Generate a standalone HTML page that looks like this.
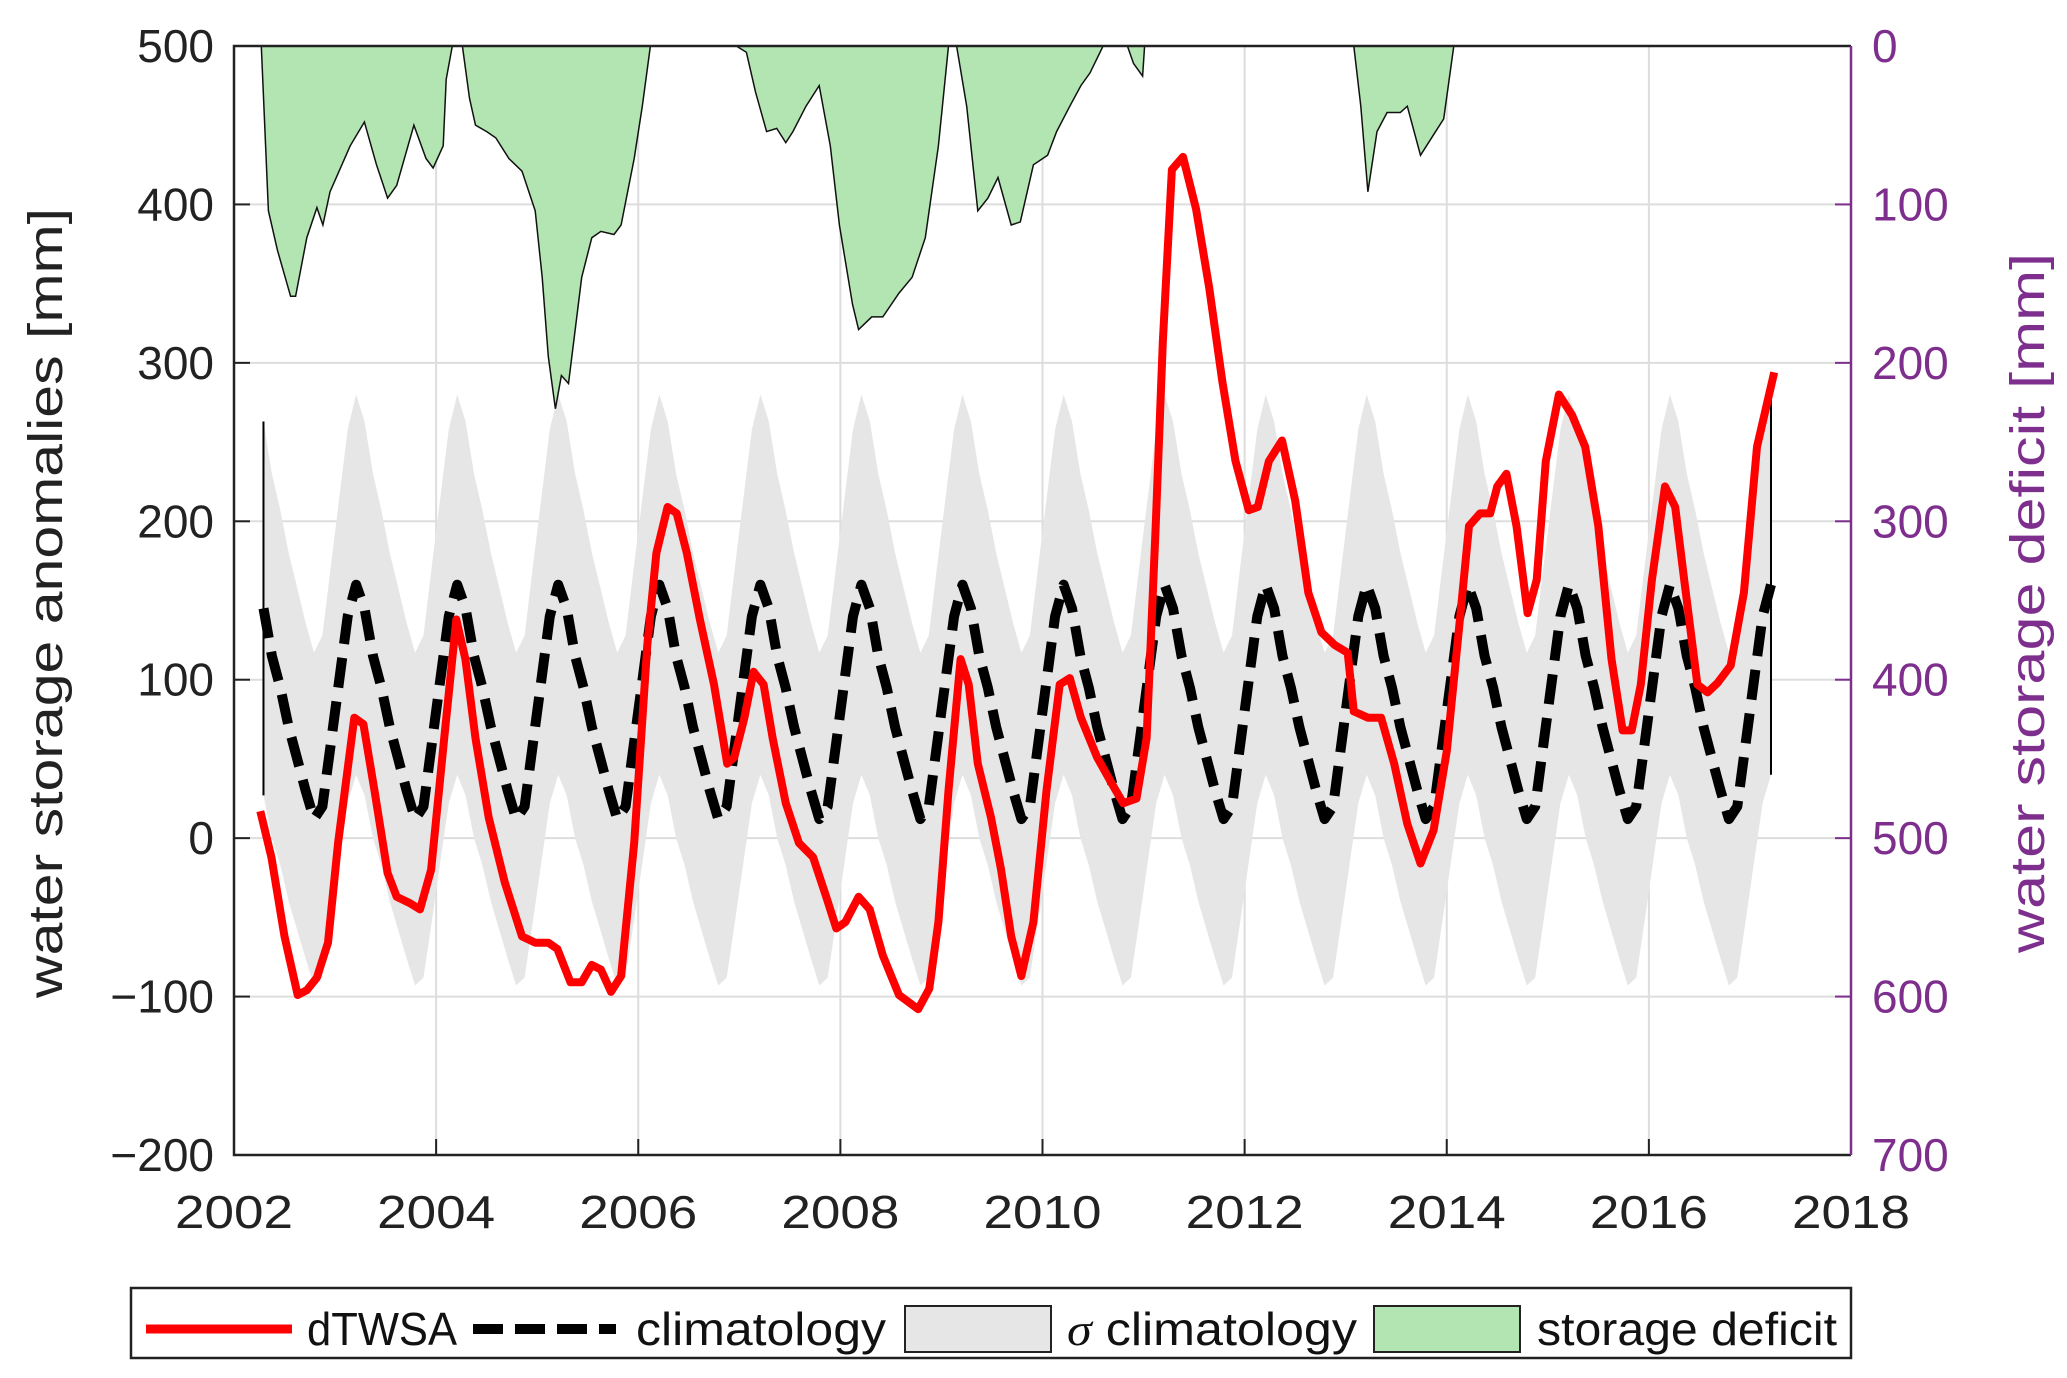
<!DOCTYPE html>
<html><head><meta charset="utf-8"><style>
html,body{margin:0;padding:0;background:#fff;}
svg{display:block;font-family:"Liberation Sans","DejaVu Sans",sans-serif;}
</style></head><body>
<svg id="chart" width="2067" height="1378" viewBox="0 0 2067 1378" xmlns="http://www.w3.org/2000/svg">
<g id="grid"></g>
<g id="band"></g>
<g id="deficit"></g>
<g id="series"></g>
<g id="axes"></g>
<text transform="translate(62,603) rotate(-90)" text-anchor="middle" font-size="48" fill="#222" textLength="790" lengthAdjust="spacingAndGlyphs">water storage anomalies [mm]</text>
<text transform="translate(2044,603) rotate(-90)" text-anchor="middle" font-size="48" fill="#7E2F8E" textLength="700" lengthAdjust="spacingAndGlyphs">water storage deficit [mm]</text>
<g>
<rect x="131" y="1288" width="1720" height="70" fill="#fff" stroke="#222" stroke-width="2.5"/>
<line x1="146" y1="1329" x2="292" y2="1329" stroke="#ff0000" stroke-width="9"/>
<text x="307" y="1345" font-size="46" fill="#111" textLength="150" lengthAdjust="spacingAndGlyphs">dTWSA</text>
<line x1="473" y1="1329" x2="616" y2="1329" stroke="#000" stroke-width="10" stroke-dasharray="30 12"/>
<text x="636" y="1345" font-size="46" fill="#111" textLength="250" lengthAdjust="spacingAndGlyphs">climatology</text>
<rect x="905" y="1306" width="146" height="46" fill="#e6e6e6" stroke="#222" stroke-width="2"/>
<text x="1067" y="1345" font-size="46" fill="#111" textLength="290" lengthAdjust="spacingAndGlyphs"><tspan font-style="italic" font-family="Liberation Serif,serif">σ</tspan> climatology</text>
<rect x="1374" y="1306" width="146" height="46" fill="#b3e5b2" stroke="#222" stroke-width="2"/>
<text x="1537" y="1345" font-size="46" fill="#111" textLength="300" lengthAdjust="spacingAndGlyphs">storage deficit</text>
</g>
</svg>
<script>
const dtwsaYears=[2002.26,2002.37,2002.50,2002.63,2002.72,2002.82,2002.93,2003.03,2003.19,2003.28,2003.39,2003.52,2003.61,2003.74,2003.84,2003.95,2004.08,2004.20,2004.29,2004.39,2004.52,2004.68,2004.85,2004.98,2005.11,2005.20,2005.33,2005.44,2005.54,2005.63,2005.73,2005.83,2005.96,2006.09,2006.18,2006.29,2006.38,2006.48,2006.61,2006.75,2006.88,2006.95,2007.05,2007.14,2007.24,2007.33,2007.46,2007.59,2007.73,2007.86,2007.96,2008.05,2008.18,2008.29,2008.42,2008.58,2008.77,2008.88,2008.97,2009.07,2009.19,2009.27,2009.36,2009.49,2009.59,2009.69,2009.79,2009.91,2010.04,2010.17,2010.27,2010.38,2010.54,2010.69,2010.80,2010.93,2011.03,2011.12,2011.19,2011.28,2011.39,2011.52,2011.65,2011.78,2011.91,2012.04,2012.13,2012.24,2012.37,2012.50,2012.63,2012.76,2012.89,2013.02,2013.08,2013.22,2013.35,2013.48,2013.61,2013.74,2013.87,2014.00,2014.13,2014.22,2014.33,2014.43,2014.50,2014.59,2014.69,2014.80,2014.89,2014.98,2015.11,2015.24,2015.37,2015.50,2015.63,2015.74,2015.83,2015.92,2016.03,2016.16,2016.26,2016.35,2016.48,2016.58,2016.68,2016.81,2016.94,2017.07,2017.24];
const dtwsaValues=[17,-12,-62,-99,-96,-88,-66,-3,76,72,30,-22,-37,-41,-45,-20,63,138,113,63,13,-28,-62,-66,-66,-70,-91,-91,-80,-83,-97,-87,-3,122,180,209,205,180,138,97,47,51,76,105,97,63,22,-3,-12,-37,-57,-53,-37,-45,-74,-99,-108,-95,-53,30,113,97,47,13,-20,-62,-87,-53,30,97,101,76,51,34,22,25,63,197,313,422,430,397,347,288,238,207,209,238,251,213,155,130,122,117,80,76,76,47,9,-16,5,55,138,197,205,205,222,230,197,142,163,238,280,267,247,197,113,68,68,97,163,222,209,163,97,92,98,109,155,247,294];
const climMonthly=[100,140,160,145,115,95,70,50,30,12,20,60];
const sigmaMonthly=[115,118,120,118,115,112,110,108,106,105,108,112];
const deficitSegYears=[
[2002.27,2002.34,2002.43,2002.56,2002.61,2002.72,2002.82,2002.88,2002.95,2003.15,2003.29,2003.41,2003.52,2003.61,2003.78,2003.90,2003.97,2004.07,2004.10,2004.16],
[2004.26,2004.33,2004.39,2004.50,2004.59,2004.72,2004.85,2004.98,2005.05,2005.11,2005.18,2005.24,2005.31,2005.44,2005.54,2005.63,2005.76,2005.83,2005.96,2006.04,2006.12],
[2006.97,2007.07,2007.16,2007.27,2007.37,2007.46,2007.53,2007.66,2007.79,2007.90,2007.99,2008.12,2008.18,2008.31,2008.42,2008.58,2008.71,2008.84,2008.97,2009.07],
[2009.15,2009.25,2009.36,2009.46,2009.56,2009.69,2009.78,2009.91,2010.05,2010.14,2010.27,2010.38,2010.47,2010.60],
[2010.84,2010.90,2010.99,2011.01],
[2013.08,2013.15,2013.22,2013.31,2013.41,2013.54,2013.61,2013.74,2013.87,2013.97,2014.07]];
const deficitSegValues=[
[0,104,129,158,158,121,102,113,92,63,48,75,96,88,50,71,77,63,21,0],
[0,33,50,54,58,71,79,104,146,196,229,208,213,146,121,117,119,113,71,38,0],
[0,4,29,54,52,61,54,38,25,63,113,163,179,171,171,156,146,121,63,0],
[0,38,104,96,83,113,111,75,69,54,38,25,17,0],
[0,11,19,0],
[0,38,92,54,42,42,38,69,56,46,0]];
const xTicks=[2002,2004,2006,2008,2010,2012,2014,2016,2018];
const yTicksLeft=[-200,-100,0,100,200,300,400,500];
const yTicksRight=[0,100,200,300,400,500,600,700];

const L=234,R=1851,T=46,B=1155;
const sx=y=>L+(y-2002)/16*(R-L);
const sy=v=>T+(500-v)/700*(B-T);
const syR=d=>T+d/700*(B-T);
const NS='http://www.w3.org/2000/svg';
function mk(tag,parent,attrs){const e=document.createElementNS(NS,tag);for(const k in attrs)e.setAttribute(k,attrs[k]);parent.appendChild(e);return e;}
const grid=document.getElementById('grid'),axes=document.getElementById('axes'),band=document.getElementById('band'),def=document.getElementById('deficit'),ser=document.getElementById('series');
mk('rect',grid,{x:L,y:T,width:R-L,height:B-T,fill:'#fff'});
xTicks.forEach(t=>{const g=mk('line',grid,{x1:sx(t),x2:sx(t),y1:T,y2:B,stroke:'#dddddd','stroke-width':2});

const tk=mk('line',axes,{x1:sx(t),x2:sx(t),y1:B,y2:B-16,stroke:'#222','stroke-width':2});

const tx=mk('text',axes,{x:sx(t),y:1228,'text-anchor':'middle','font-size':46,fill:'#222',textLength:118,lengthAdjust:'spacingAndGlyphs'});tx.textContent=t;
});
yTicksLeft.forEach(v=>{const g=mk('line',grid,{x1:L,x2:R,y1:sy(v),y2:sy(v),stroke:'#dddddd','stroke-width':2});

const tk=mk('line',axes,{x1:L,x2:L+16,y1:sy(v),y2:sy(v),stroke:'#222','stroke-width':2});

const tx=mk('text',axes,{x:214,y:sy(v)+16,'text-anchor':'end','font-size':46,fill:'#222'});tx.textContent=v<0?'\u2212'+(-v):v;
});
yTicksRight.forEach(d=>{const tk=mk('line',axes,{x1:R,x2:R-16,y1:syR(d),y2:syR(d),stroke:'#7E2F8E','stroke-width':2});

const tx=mk('text',axes,{x:1872,y:syR(d)+16,'text-anchor':'start','font-size':46,fill:'#7E2F8E'});tx.textContent=d;
});

const cx=[],cv=[],cs=[];
for(let yr=2002;yr<=2017;yr++)for(let m=0;m<12;m++){const t=yr+(m+0.5)/12;if(t<2002.25||t>2017.25)continue;cx.push(t);cv.push(climMonthly[m]);cs.push(sigmaMonthly[m]);}
let up='',lo='';
cx.forEach((t,i)=>{up+=(i?'L':'M')+sx(t).toFixed(1)+','+sy(cv[i]+cs[i]).toFixed(1);});
for(let i=cx.length-1;i>=0;i--)lo+='L'+sx(cx[i]).toFixed(1)+','+sy(cv[i]-cs[i]).toFixed(1);
const bp=mk('path',band,{d:up+lo+'Z',fill:'#e6e6e6'});

const e1=mk('line',band,{x1:sx(cx[0]),x2:sx(cx[0]),y1:sy(cv[0]+cs[0]),y2:sy(cv[0]-cs[0]),stroke:'#000','stroke-width':2});

const n=cx.length-1;
const e2=mk('line',band,{x1:sx(cx[n]),x2:sx(cx[n]),y1:sy(cv[n]+cs[n]),y2:sy(cv[n]-cs[n]),stroke:'#000','stroke-width':2});


deficitSegYears.forEach((ys,k)=>{let d='';ys.forEach((t,i)=>{d+=(i?'L':'M')+sx(t).toFixed(1)+','+syR(deficitSegValues[k][i]).toFixed(1);});
const p=mk('path',def,{d:d+'Z',fill:'#b3e5b2',stroke:'#111','stroke-width':1.5});
});

let cd='';cx.forEach((t,i)=>{cd+=(i?'L':'M')+sx(t).toFixed(1)+','+sy(cv[i]).toFixed(1);});
const cp=mk('path',ser,{d:cd,fill:'none',stroke:'#000','stroke-width':10,'stroke-dasharray':'30 14','stroke-linejoin':'round'});

let rd='';dtwsaYears.forEach((t,i)=>{rd+=(i?'L':'M')+sx(t).toFixed(1)+','+sy(dtwsaValues[i]).toFixed(1);});
const rp=mk('path',ser,{d:rd,fill:'none',stroke:'#ff0000','stroke-width':8,'stroke-linejoin':'round'});


const fr=mk('path',axes,{d:`M${R},${T}L${L},${T}L${L},${B}L${R},${B}`,fill:'none',stroke:'#222','stroke-width':2.5});

const ra=mk('line',axes,{x1:R,x2:R,y1:T,y2:B,stroke:'#7E2F8E','stroke-width':2.5});

</script>
</body></html>
